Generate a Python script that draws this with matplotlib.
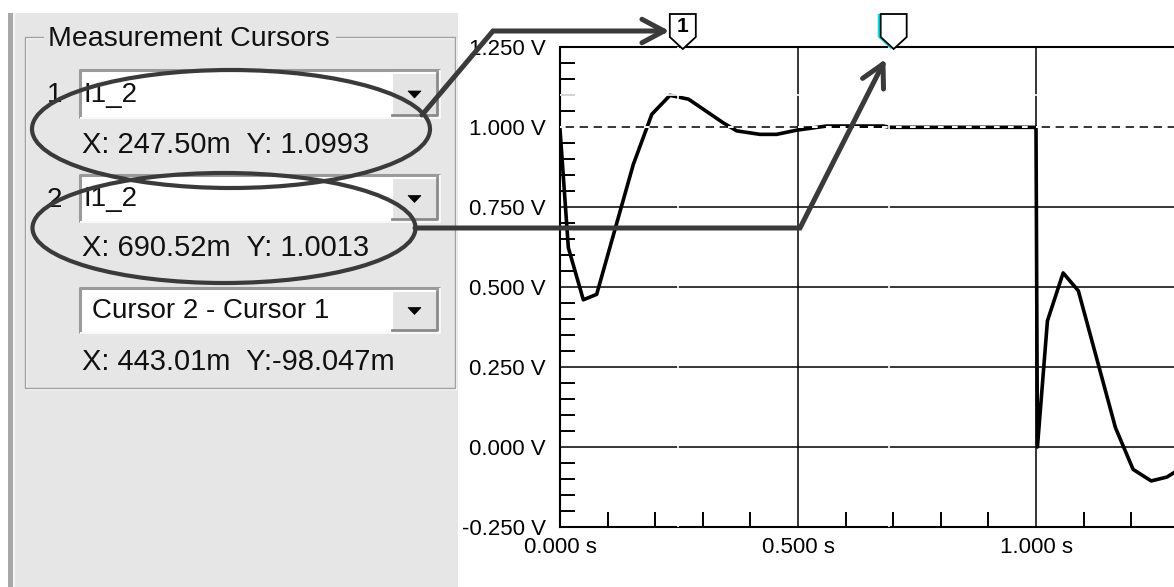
import numpy as np
import matplotlib
matplotlib.use('Agg')
import matplotlib.pyplot as plt
from matplotlib.patches import Rectangle, Ellipse, Polygon
from matplotlib.ticker import MultipleLocator

plt.rcParams['font.family'] = ['Liberation Sans', 'DejaVu Sans']

# ---- waveform ----
time_s = [0.0, 0.0175, 0.049, 0.077, 0.154, 0.193, 0.231, 0.27, 0.343, 0.371,
          0.42, 0.455, 0.497, 0.56, 0.679, 0.693, 0.9995, 1.0, 1.003, 1.024,
          1.057, 1.089, 1.167, 1.204, 1.242, 1.275, 1.29]
volts = [0.993, 0.623, 0.46, 0.477, 0.883, 1.04, 1.099, 1.087, 1.013, 0.988,
         0.977, 0.977, 0.99, 1.003, 1.003, 0.999, 0.999, 0.999, 0.0, 0.394,
         0.544, 0.488, 0.06, -0.07, -0.106, -0.094, -0.08]

cursor_x = [0.2475, 0.69052]
cursor_y = [1.0993, 1.0013]
ref_level = 1.0

y_ticks = [-0.25, 0.0, 0.25, 0.5, 0.75, 1.0, 1.25]
y_labels = ['-0.250 V', '0.000 V', '0.250 V', '0.500 V', '0.750 V', '1.000 V', '1.250 V']
x_ticks = [0.0, 0.5, 1.0]
x_labels = ['0.000 s', '0.500 s', '1.000 s']

panel_title = 'Measurement Cursors'
combo_texts = ['I1_2', 'I1_2', 'Cursor 2 - Cursor 1']
readouts = ['X: 247.50m  Y: 1.0993', 'X: 690.52m  Y: 1.0013', 'X: 443.01m  Y:-98.047m']

W, H = 1174, 587
PANEL = '#e6e6e6'
INK = '#3a3a3a'

fig = plt.figure(figsize=(W / 100, H / 100), dpi=100)
fig.patch.set_facecolor('white')

# background axes in pixel coords (y down) for the side panel
bg = fig.add_axes([0, 0, 1, 1], zorder=0)
bg.set_xlim(0, W); bg.set_ylim(H, 0); bg.axis('off')

bg.add_patch(Rectangle((14, 13), 444, H - 13, fc=PANEL, ec='none'))
bg.add_patch(Rectangle((8, 13), 5, H - 13, fc='#a8a8a8', ec='none'))
bg.add_patch(Rectangle((13, 13), 2, H - 13, fc='#f6f6f6', ec='none'))

# etched group box
bg.add_patch(Rectangle((26, 38), 430, 351, fc='none', ec='white', lw=1.0))
bg.add_patch(Rectangle((25, 37), 430, 351, fc='none', ec='#a0a0a0', lw=1.0))
bg.add_patch(Rectangle((44, 28), 292, 20, fc=PANEL, ec='none'))
bg.text(48, 39, panel_title, fontsize=20.5, va='center', ha='left', color='#111111')

combo_rows = [(70, 118), (175, 222), (288, 333)]
for i, ((y0, y1), txt) in enumerate(zip(combo_rows, combo_texts)):
    h = y1 - y0
    bg.add_patch(Rectangle((80, y0), 360, h, fc='white', ec='none'))
    # sunken border
    bg.plot([80, 80, 440], [y1, y0, y0], color='#9a9a9a', lw=2.2, solid_capstyle='butt')
    bg.plot([80, 440, 440], [y1, y1, y0], color='#f8f8f8', lw=1.5, solid_capstyle='butt')
    # drop-down button
    bg.add_patch(Rectangle((392, y0 + 3), 45, h - 6, fc='#e4e4e4', ec='none'))
    bg.plot([392, 392, 437], [y1 - 3, y0 + 3, y0 + 3], color='white', lw=1.5)
    bg.plot([392, 437, 437], [y1 - 3, y1 - 3, y0 + 3], color='#8a8a8a', lw=2.0)
    ym = (y0 + y1) / 2
    bg.add_patch(Polygon([(408, ym - 3), (421, ym - 3), (414.5, ym + 4)], closed=True,
                         fc='black', ec='black', lw=0.5))
    tx = 92 if i == 2 else 84
    bg.text(tx, ym + 1, txt, fontsize=20, va='center', ha='left', color='#111111')

bg.text(47, 95, '1', fontsize=20, va='center', ha='left', color='#111111')
bg.text(47, 200, '2', fontsize=20, va='center', ha='left', color='#111111')
for yy, txt in zip([145, 248, 362], readouts):
    bg.text(82, yy, txt, fontsize=21, va='center', ha='left', color='#111111')

# ---- scope plot ----
ax = fig.add_axes([560 / W, 1 - 527 / H, (W - 560) / W, (527 - 47) / H], zorder=1)
ax.set_facecolor('white')
ax.set_xlim(0, (W - 560) / 476)
ax.set_ylim(-0.25, 1.25)

ax.set_yticks(y_ticks, y_labels)
ax.set_xticks(x_ticks, x_labels)
ax.yaxis.set_minor_locator(MultipleLocator(0.05))
ax.xaxis.set_minor_locator(MultipleLocator(0.1))
ax.tick_params(which='major', length=0, labelsize=16, colors='black')
ax.tick_params(axis='y', which='major', pad=10)
ax.tick_params(axis='x', which='major', pad=7)
ax.tick_params(which='minor', direction='in', length=11, width=1.4, color='black')
ax.grid(True, which='major', color='black', lw=1.1)
ax.set_axisbelow(True)
for side in ['left', 'top', 'bottom']:
    ax.spines[side].set_linewidth(1.5)
    ax.spines[side].set_color('black')
ax.spines['right'].set_visible(False)

ax.plot(time_s, volts, color='black', lw=2.6, zorder=3)

# cursor cross-hairs are drawn white on top, reference level as dashes
for cx in cursor_x:
    ax.axvline(cx, color='white', lw=1.2, zorder=4)
ax.axhline(cursor_y[0], color='white', lw=1.2, zorder=4)
ax.axhline(ref_level, color='white', lw=1.4, ls=(0, (2.9, 4.3)), zorder=4)

# ---- overlay: annotations in pixel coords ----
ov = fig.add_axes([0, 0, 1, 1], zorder=5)
ov.set_xlim(0, W); ov.set_ylim(H, 0); ov.axis('off')
ov.patch.set_alpha(0)

ov.add_patch(Ellipse((231, 129), 398, 118, fc='none', ec=INK, lw=3.0))
ov.add_patch(Ellipse((224, 228), 383, 110, fc='none', ec=INK, lw=3.0))


def chevron_arrow(xs, ys, arm=25, ang=28):
    ov.plot(xs, ys, color=INK, lw=3.6, solid_capstyle='round', solid_joinstyle='miter')
    dx, dy = xs[-1] - xs[-2], ys[-1] - ys[-2]
    th = np.arctan2(dy, dx)
    for s in (1, -1):
        a = th + np.pi - s * np.radians(ang)
        ov.plot([xs[-1] + arm * np.cos(a), xs[-1]], [ys[-1] + arm * np.sin(a), ys[-1]],
                color=INK, lw=3.6, solid_capstyle='round')


chevron_arrow([422, 493, 664], [115, 31, 31])
chevron_arrow([415, 800, 883], [228, 228, 64])

# cursor flags above the plot
H_OFF = 5
for i, cx in enumerate(cursor_x):
    px = ax.transData.transform((cx, 0))[0] + H_OFF
    pts = [(px - 13, 14), (px + 13, 14), (px + 13, 37), (px, 49), (px - 13, 37)]
    if i == 1:
        ov.add_patch(Polygon([(x - 3, y) for x, y in pts], closed=True, fc='#00e5ee', ec='none'))
    ov.add_patch(Polygon(pts, closed=True, fc='white', ec='black', lw=1.3))
    if i == 0:
        ov.text(px, 27, '1', fontsize=15, fontweight='bold', ha='center', va='center')

fig.savefig('out.png', dpi=100)
